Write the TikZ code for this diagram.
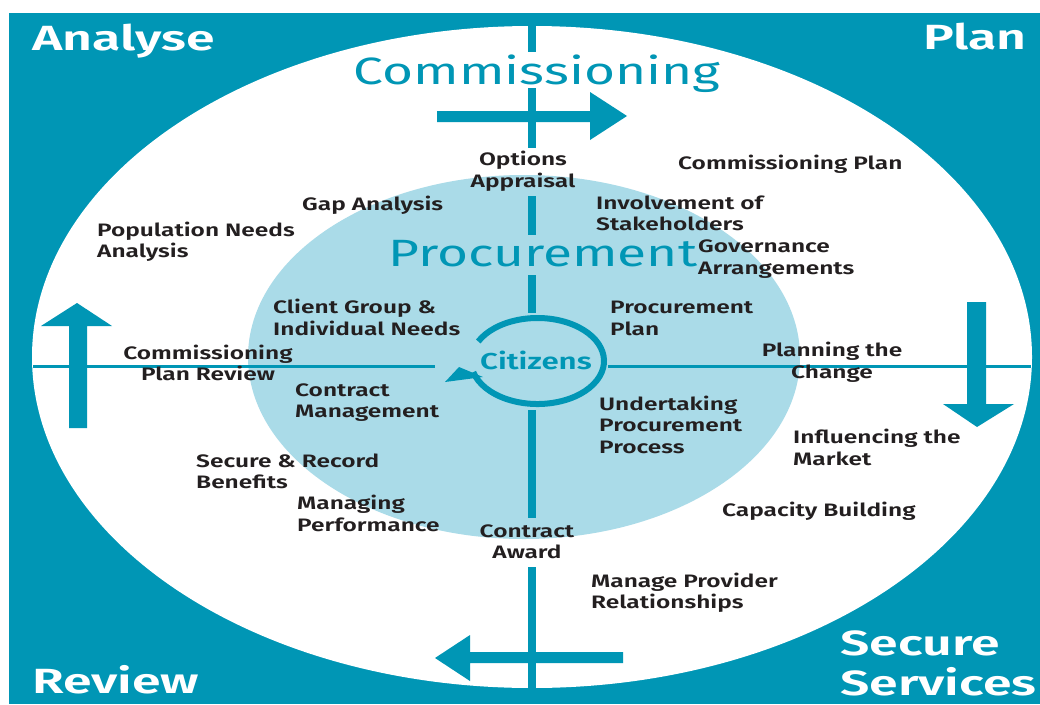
\documentclass[tikz,border=0pt]{standalone}
\usepackage{fontspec}
\setmainfont{Fira Sans}[FakeStretch=1.36, BoldFont={Fira Sans SemiBold}]
\newfontfamily\cornerfont{Fira Sans SemiBold}[FakeStretch=1.48]
\newfontfamily\headfont{Fira Sans}[FakeStretch=1.4]
\definecolor{teal1}{RGB}{0,150,181}
\definecolor{lblue}{RGB}{170,219,232}
\definecolor{txt}{RGB}{35,31,32}
\tikzset{
  body/.style={inner sep=0pt, text=txt, font=\bfseries\fontsize{18}{21.5}\selectfont},
  bodyL/.style={body, anchor=west, align=left},
  bodyC/.style={body, anchor=center, align=center},
  corner/.style={inner sep=0pt, text=white, font=\cornerfont\fontsize{35}{42}\selectfont},
  bigteal/.style={inner sep=0pt, text=teal1, font=\headfont\fontsize{38}{44}\selectfont},
  vline/.style={draw=teal1, line width=8pt},
  hline/.style={draw=teal1, line width=3pt},
  arrowfill/.style={fill=teal1}
}
\begin{document}
\begin{tikzpicture}[x=1pt,y=-1pt]
\useasboundingbox (0,0) rectangle (1040,704);
\fill[white] (0,0) rectangle (1040,704);
\fill[teal1] (9,13) rectangle (1040,704);
\fill[white] (532,357) ellipse [x radius=500, y radius=331];
\fill[lblue] (524,357) ellipse [x radius=276, y radius=182];
% horizontal line
\draw[hline] (33,366) -- (435,366);
\draw[hline] (608,366) -- (1031,366);
% vertical line segments
\draw[vline] (532,20) -- (532,52);
\draw[vline] (532,88) -- (532,148);
\draw[vline] (532,196) -- (532,235);
\draw[vline] (532,275) -- (532,313);
\draw[vline] (532,410) -- (532,518);
\draw[vline] (532,567) -- (532,695);
% arrows
\fill[arrowfill] (437,111) -- (590,111) -- (590,92) -- (627,116) -- (590,140) -- (590,122) -- (437,122) -- cycle;
\fill[arrowfill] (623,652) -- (470,652) -- (470,635) -- (435,658) -- (470,681) -- (470,663) -- (623,663) -- cycle;
\fill[arrowfill] (69,428) -- (69,326) -- (41,326) -- (77,303) -- (112,326) -- (87,326) -- (87,428) -- cycle;
\fill[arrowfill] (967,302) -- (967,404) -- (943,404) -- (977,427) -- (1014,404) -- (986,404) -- (986,302) -- cycle;
% citizens ring
\draw[teal1, line width=6pt] ([shift={(-153:66.5 and 43)}]537.5,361) arc[start angle=-153, end angle=165, x radius=66.5, y radius=43];
\fill[teal1] (445,382) -- (483,377) -- (459,367) -- cycle;
% corner labels
\node[corner, anchor=base west] (analyse) at (32,50) {Analyse};
\node[corner, anchor=base east] (plan) at (1027,49) {Plan};
\node[corner, anchor=base west] (review) at (32,693) {Review};
\node[corner, anchor=base west] (secure) at (840,655) {Secure};
\node[corner, anchor=base west] (services) at (840,695) {Services};
% big teal labels
\node[bigteal, anchor=base] (commissioning) at (537,84) {Commissioning};
\node[bigteal, anchor=base] (procurement) at (543,266) {Procurement};
\node[inner sep=0pt, text=teal1, font=\bfseries\fontsize{23}{27}\selectfont] (citizens) at (536,360) {Citizens};
% body labels
\node[bodyC] (options) at (523,171) {Options\\Appraisal};
\node[bodyL] (complan) at (678,164) {Commissioning Plan};
\node[bodyL] (gap) at (302,205) {Gap Analysis};
\node[bodyL] (involve) at (596,213.5) {Involvement of\\Stakeholders};
\node[bodyL] (popneeds) at (97,241.5) {Population Needs\\Analysis};
\node[bodyL] (govern) at (698,259) {Governance\\Arrangements};
\node[bodyL] (client) at (273,317.5) {Client Group \&\\Individual Needs};
\node[bodyL] (procplan) at (610,318.5) {Procurement\\Plan};
\node[bodyC] (planreview) at (208,363) {Commissioning\\Plan Review};
\node[bodyC] (planning) at (832,362) {Planning the\\Change};
\node[bodyL] (contractmgmt) at (295,402.5) {Contract\\Management};
\node[bodyL] (undertaking) at (599,424.5) {Undertaking\\Procurement\\Process};
\node[bodyL] (influencing) at (793,447.5) {Influencing the\\Market};
\node[bodyL] (securerec) at (196,471.5) {Secure \& Record\\Benefits};
\node[bodyL] (managing) at (297,513.5) {Managing\\Performance};
\node[bodyC] (award) at (527,542) {Contract\\Award};
\node[bodyL] (capacity) at (722,511) {Capacity Building};
\node[bodyL] (provider) at (591,592.5) {Manage Provider\\Relationships};
\end{tikzpicture}
\end{document}
